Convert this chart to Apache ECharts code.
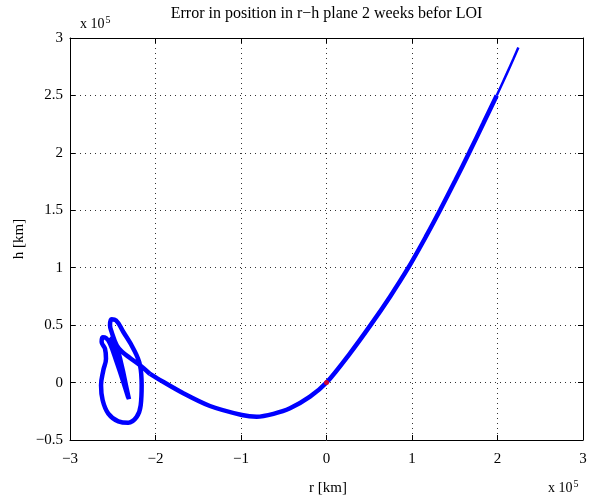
<!DOCTYPE html>
<html><head><meta charset="utf-8">
<script src="https://cdn.jsdelivr.net/npm/echarts@6/dist/echarts.min.js"></script>
<style>html,body{margin:0;padding:0;background:#fff}#c{width:606px;height:498px}</style>
</head><body><div id="c"></div>
<script>
// ---- text ----
const titleText = 'Error in position in r\u2212h plane 2 weeks befor LOI';
const xName = 'r [km]';
const yName = 'h [km]';
const xTickValues = [-3, -2, -1, 0, 1, 2, 3];
const xTickLabels = ['\u22123', '\u22122', '\u22121', '0', '1', '2', '3'];
const yTickValues = [-0.5, 0, 0.5, 1, 1.5, 2, 2.5, 3];
const yTickLabels = ['\u22120.5', '0', '0.5', '1', '1.5', '2', '2.5', '3'];

// ---- data (units of 1e5 km) ----
// thin far end of the branch
const tailR = [2.244, 2.188, 2.110, 1.991];
const tailH = [2.918, 2.822, 2.692, 2.5];
// main arc down through the origin to the loop region
const arcR = [1.991, 1.835, 1.668, 1.509, 1.329, 1.162, 0.957, 0.743, 0.515, 0.275, 0, -0.193, -0.427, -0.62, -0.816, -0.99, -1.363, -1.675, -1.98, -2.064];
const arcH = [2.5, 2.257, 2.0, 1.763, 1.502, 1.27, 1.0, 0.748, 0.5, 0.255, 0, -0.123, -0.224, -0.272, -0.297, -0.282, -0.204, -0.093, 0.037, 0.075];
// loops near r = -2.4e5
const loopR = [-2.064, -2.181, -2.298, -2.396, -2.454, -2.513, -2.532, -2.513, -2.462, -2.376, -2.259, -2.181, -2.162, -2.173, -2.220, -2.318, -2.435, -2.552, -2.618, -2.637, -2.610, -2.579, -2.591, -2.630, -2.618, -2.579, -2.532, -2.454, -2.376, -2.318, -2.337, -2.415, -2.493, -2.532, -2.474, -2.396, -2.337, -2.310];
const loopH = [0.075, 0.150, 0.214, 0.272, 0.324, 0.440, 0.498, 0.551, 0.542, 0.440, 0.295, 0.150, -0.024, -0.198, -0.299, -0.349, -0.337, -0.270, -0.154, -0.024, 0.107, 0.208, 0.295, 0.353, 0.394, 0.388, 0.339, 0.179, 0.005, -0.134, -0.082, 0.121, 0.295, 0.382, 0.353, 0.150, -0.053, -0.146];
// nominal point
const originR = [0];
const originH = [0];

const pairs = (a, b) => a.map((v, i) => [v, b[i]]);
const FONT = '"Liberation Serif", "DejaVu Serif", serif';
const BLUE = '#0000ff';

const xLabelFmt = v => { const i = xTickValues.findIndex(t => Math.abs(t - v) < 1e-9); return i >= 0 ? xTickLabels[i] : ''; };
const yLabelFmt = v => { const i = yTickValues.findIndex(t => Math.abs(t - v) < 1e-9); return i >= 0 ? yTickLabels[i] : ''; };

const axisLine = { show: true, onZero: false, lineStyle: { color: '#000', width: 1 } };
const tick = { show: true, inside: true, length: 5, lineStyle: { color: '#000', width: 1 } };
const gridLine = { show: true, lineStyle: { color: '#333', width: 1, type: [1, 4] } };

const chart = echarts.init(document.getElementById('c'), null, { renderer: 'canvas' });
chart.setOption({
  animation: false,
  backgroundColor: '#fff',
  grid: { left: 70, right: 23, top: 38, bottom: 58, containLabel: false },
  xAxis: [
    { type: 'value', min: -3, max: 3, interval: 1, position: 'bottom',
      axisLine, axisTick: tick, splitLine: gridLine,
      axisLabel: { formatter: xLabelFmt, fontFamily: FONT, fontSize: 15, color: '#000', margin: 12 } },
    { type: 'value', min: -3, max: 3, interval: 1, position: 'top',
      axisLine, axisTick: tick, splitLine: { show: false }, axisLabel: { show: false } }
  ],
  yAxis: [
    { type: 'value', min: -0.5, max: 3, interval: 0.5, position: 'left',
      axisLine, axisTick: tick, splitLine: gridLine,
      axisLabel: { formatter: yLabelFmt, fontFamily: FONT, fontSize: 15, color: '#000', margin: 7 } },
    { type: 'value', min: -0.5, max: 3, interval: 0.5, position: 'right',
      axisLine, axisTick: tick, splitLine: { show: false }, axisLabel: { show: false } }
  ],
  series: [
    { type: 'line', data: pairs(tailR, tailH), showSymbol: false, smooth: 0.3,
      lineStyle: { color: BLUE, width: 2.5 }, z: 3 },
    { type: 'line', data: pairs(arcR, arcH), showSymbol: false, smooth: 0.3,
      lineStyle: { color: BLUE, width: 4.5 }, z: 3 },
    { type: 'line', data: pairs(loopR, loopH), showSymbol: false, smooth: 0.4,
      lineStyle: { color: BLUE, width: 4.5 }, z: 3 },
    { type: 'scatter', data: pairs(originR, originH), symbolSize: 5,
      itemStyle: { color: '#ff0000' }, z: 5 }
  ],
  graphic: [
    { type: 'text', x: 326.5, y: 14, style: { text: titleText, textAlign: 'center', textVerticalAlign: 'middle', font: '16px ' + FONT, fill: '#000' } },
    { type: 'text', x: 328, y: 488, style: { text: xName, textAlign: 'center', textVerticalAlign: 'middle', font: '15px ' + FONT, fill: '#000' } },
    { type: 'text', x: 19, y: 239, rotation: Math.PI / 2, style: { text: yName, textAlign: 'center', textVerticalAlign: 'middle', font: '15px ' + FONT, fill: '#000' } },
    { type: 'text', x: 80, y: 24, style: { text: '{a|x 10}{b|5}', textAlign: 'left', textVerticalAlign: 'middle', rich: { a: { fontFamily: FONT, fontSize: 14, color: '#000' }, b: { fontFamily: FONT, fontSize: 10, color: '#000', verticalAlign: 'top', padding: [0, 0, 8, 1] } } } },
    { type: 'text', x: 548, y: 488, style: { text: '{a|x 10}{b|5}', textAlign: 'left', textVerticalAlign: 'middle', rich: { a: { fontFamily: FONT, fontSize: 14, color: '#000' }, b: { fontFamily: FONT, fontSize: 10, color: '#000', verticalAlign: 'top', padding: [0, 0, 8, 1] } } } }
  ]
});
</script></body></html>
